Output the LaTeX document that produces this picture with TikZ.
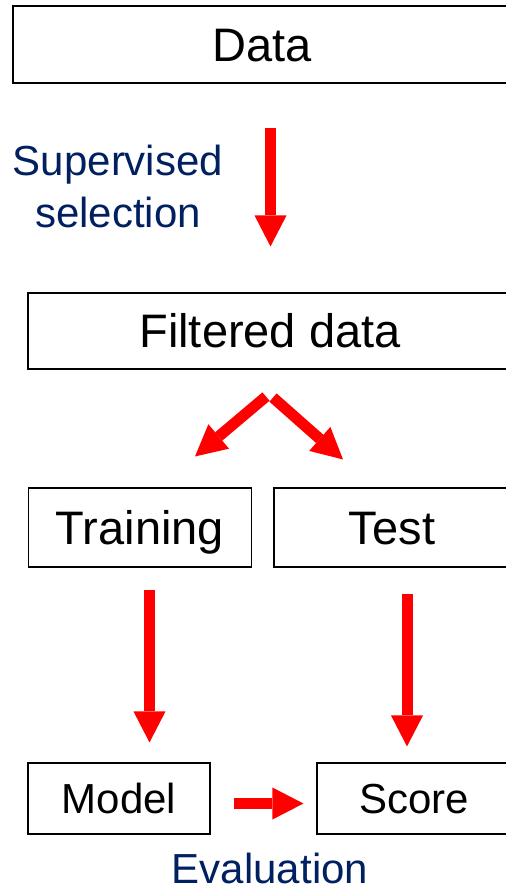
\documentclass[tikz,border=0pt]{standalone}
\usepackage{fontspec}
\setmainfont{Liberation Sans}
\usepackage{tikz}
\usetikzlibrary{arrows.meta, positioning}
\definecolor{navy}{HTML}{002060}

\begin{document}
\begin{tikzpicture}[x=1pt, y=-1pt,
    box/.style={draw, line width=1.1pt, inner sep=0pt, text height=33.7pt, text depth=0pt, font=\fontsize{47}{56}\selectfont},
    smallbox/.style={box, text height=30pt, font=\fontsize{42}{52}\selectfont},
    bluelabel/.style={text=navy, inner sep=0pt, align=center, font=\fontsize{42}{52}\selectfont},
    redarrow/.style={draw=red, line width=11pt, -{Triangle[length=31pt, width=32pt, line width=0pt]}, fill=red}]
    \clip (0,0) rectangle (506,889);

    \node[box, minimum width=498pt, minimum height=77pt] (data) at (262,44.5) {Data};
    \node[box, minimum width=484pt, minimum height=76pt] (filtered) at (270,331) {Filtered data};
    \node[box, minimum width=223pt, minimum height=79pt] (training) at (140,527.5) {Training};
    \node[box, minimum width=236pt, minimum height=79pt] (test) at (392,527.5) {Test};
    \node[smallbox, minimum width=182pt, minimum height=71pt] (model) at (119,798.5) {Model};
    \node[smallbox, minimum width=194pt, minimum height=71pt] (score) at (414,798.5) {Score};

    \node[bluelabel] (selection) at (118,186) {Supervised\\selection};
    \node[bluelabel, anchor=base] (evaluation) at (270,883) {Evaluation};

    \draw[redarrow] ([shift={(0.5,44)}]data.south -| filtered.north) -- ([shift={(0.5,-46)}]filtered.north);
    \draw[redarrow] ([shift={(-4,27)}]filtered.south) -- ([shift={(55,-31)}]training.north);
    \draw[redarrow] ([shift={(3,28)}]filtered.south) -- ([shift={(-49,-28)}]test.north);
    \draw[redarrow] ([shift={(9.5,22)}]training.south) -- ([shift={(30.5,-20)}]model.north);
    \draw[redarrow] ([shift={(15,26)}]test.south) -- ([shift={(-7,-16)}]score.north);
    \draw[redarrow] ([shift={(23,5)}]model.east) -- ([shift={(-13,5)}]score.west);
\end{tikzpicture}
\end{document}
